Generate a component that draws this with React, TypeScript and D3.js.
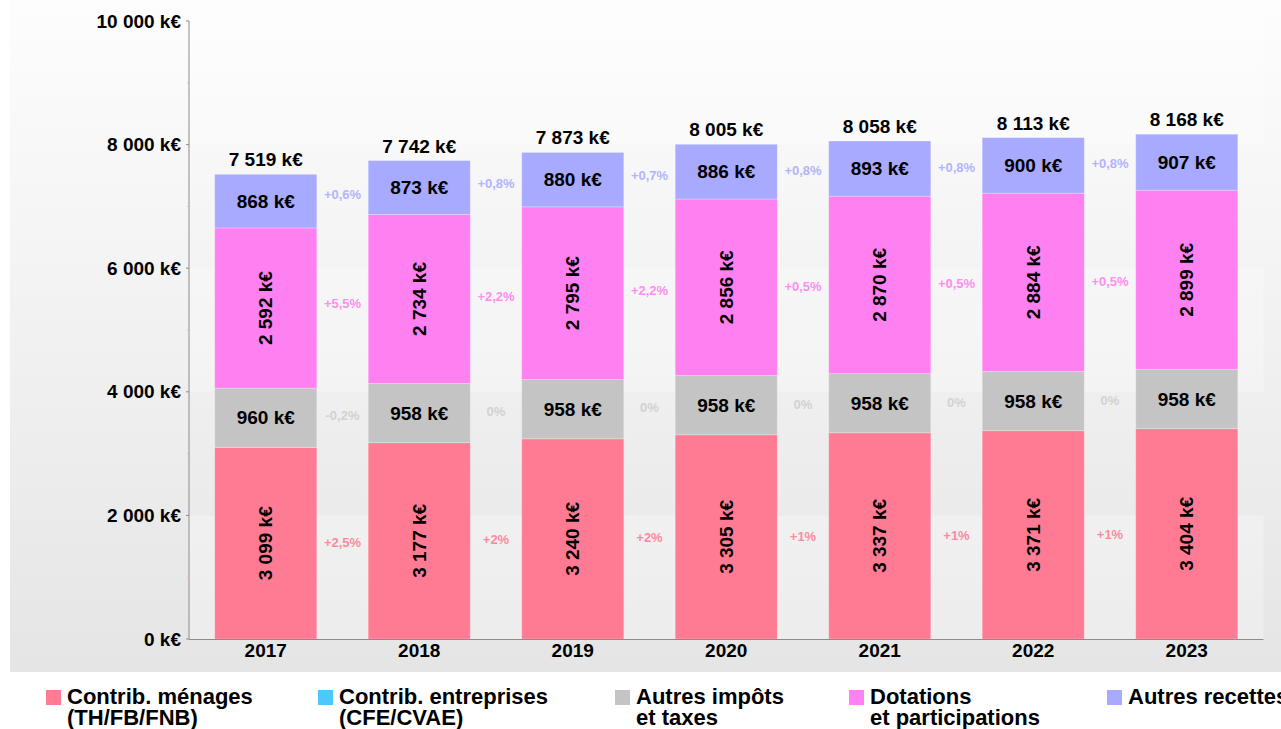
import React from "react";
import * as d3 from "d3";

const years = ["2017", "2018", "2019", "2020", "2021", "2022", "2023"];
const menages = [3099, 3177, 3240, 3305, 3337, 3371, 3404];
const entreprises = [0, 0, 0, 0, 0, 0, 0];
const autresImpots = [960, 958, 958, 958, 958, 958, 958];
const dotations = [2592, 2734, 2795, 2856, 2870, 2884, 2899];
const autresRecettes = [868, 873, 880, 886, 893, 900, 907];
const totals = [7519, 7742, 7873, 8005, 8058, 8113, 8168];

const pctMenages = ["+2,5%", "+2%", "+2%", "+1%", "+1%", "+1%"];
const pctImpots = ["-0,2%", "0%", "0%", "0%", "0%", "0%"];
const pctDotations = ["+5,5%", "+2,2%", "+2,2%", "+0,5%", "+0,5%", "+0,5%"];
const pctRecettes = ["+0,6%", "+0,8%", "+0,7%", "+0,8%", "+0,8%", "+0,8%"];

const yTicks = [0, 2000, 4000, 6000, 8000, 10000];
const yMinorTicks = [1000, 3000, 5000, 7000, 9000];

const series = [
  { key: "menages", name: ["Contrib. ménages", "(TH/FB/FNB)"], values: menages, pct: pctMenages, color: "#ff7b93", pctColor: "#ff8aa0", rotate: true },
  { key: "entreprises", name: ["Contrib. entreprises", "(CFE/CVAE)"], values: entreprises, pct: null, color: "#4cc8ff", pctColor: "#4cc8ff", rotate: false },
  { key: "impots", name: ["Autres impôts", "et taxes"], values: autresImpots, pct: pctImpots, color: "#c4c4c4", pctColor: "#d2d2d2", rotate: false },
  { key: "dotations", name: ["Dotations", "et participations"], values: dotations, pct: pctDotations, color: "#ff80f0", pctColor: "#ff8ef0", rotate: true },
  { key: "recettes", name: ["Autres recettes"], values: autresRecettes, pct: pctRecettes, color: "#a8aaff", pctColor: "#b2b4ff", rotate: false },
];

const legendX = [46, 318, 615, 849, 1107];

const fmt = (v: number) => {
  const s = String(v);
  return s.replace(/\B(?=(\d{3})+(?!\d))/g, " ") + " k€";
};

const FONT = "'Liberation Sans', Arial, Helvetica, sans-serif";

export default function App() {
  const W = 1281;
  const H = 729;
  const x0 = 189;
  const x1 = 1263.5;
  const y0 = 639;
  const y1 = 21;

  const x = d3.scaleBand<string>().domain(years).range([x0, x1]).paddingInner(0.335).paddingOuter(0.1675);
  const y = d3.scaleLinear().domain([0, 10000]).range([y0, y1]);

  const stack = d3
    .stack<number>()
    .keys(series.map((s, i) => String(i)))
    .value((d, k) => series[+k].values[d]);
  const stacked = stack(years.map((_, i) => i));

  const bw = x.bandwidth();

  return (
    <svg width={W} height={H} style={{ position: "absolute", left: 0, top: 0, fontFamily: FONT }}>
      <defs>
        <linearGradient id="panelGrad" x1="0" y1="0" x2="0" y2="1">
          <stop offset="0" stopColor="#fdfdfd" />
          <stop offset="1" stopColor="#e5e5e5" />
        </linearGradient>
      </defs>
      <rect x={0} y={0} width={W} height={H} fill="#ffffff" />
      <rect x={10} y={0} width={W - 10} height={672} fill="url(#panelGrad)" />
      {/* alternating plot bands */}
      {yTicks.slice(0, -1).map((t, i) =>
        i % 2 === 0 ? (
          <rect
            key={t}
            x={x0}
            y={y(t + 2000)}
            width={x1 - x0}
            height={y(t) - y(t + 2000)}
            fill="#ffffff"
            opacity={0.28}
          />
        ) : null
      )}

      {/* bars */}
      {stacked.map((layer, si) =>
        layer.map((d, i) => {
          const h = y(d[0]) - y(d[1]);
          if (h <= 0) return null;
          return (
            <rect
              key={`${si}-${i}`}
              x={x(years[i])}
              y={y(d[1])}
              width={bw}
              height={h}
              fill={series[si].color}
              stroke="#ffffff"
              strokeOpacity={0.25}
              strokeWidth={1}
            />
          );
        })
      )}

      {/* segment labels */}
      {stacked.map((layer, si) =>
        layer.map((d, i) => {
          const v = series[si].values[i];
          if (!v) return null;
          const cx = (x(years[i]) as number) + bw / 2;
          const cy = (y(d[0]) + y(d[1])) / 2;
          return series[si].rotate ? (
            <text
              key={`l-${si}-${i}`}
              transform={`translate(${cx},${cy}) rotate(-90)`}
              textAnchor="middle"
              dy="0.35em"
              fontSize={19}
              fontWeight="bold"
              fill="#000"
            >
              {fmt(v)}
            </text>
          ) : (
            <text key={`l-${si}-${i}`} x={cx} y={cy} textAnchor="middle" dy="0.35em" fontSize={19} fontWeight="bold" fill="#000">
              {fmt(v)}
            </text>
          );
        })
      )}

      {/* percentage labels */}
      {stacked.map((layer, si) => {
        const pct = series[si].pct;
        if (!pct) return null;
        return pct.map((p, i) => {
          const a = layer[i];
          const b = layer[i + 1];
          const cx = ((x(years[i]) as number) + bw + (x(years[i + 1]) as number)) / 2;
          const cy = ((y(a[0]) + y(a[1])) / 2 + (y(b[0]) + y(b[1])) / 2) / 2;
          return (
            <text key={`p-${si}-${i}`} x={cx} y={cy} textAnchor="middle" dy="0.35em" fontSize={13} fontWeight="bold" fill={series[si].pctColor}>
              {p}
            </text>
          );
        });
      })}

      {/* totals */}
      {totals.map((t, i) => (
        <text key={`t-${i}`} x={(x(years[i]) as number) + bw / 2} y={y(t) - 8} textAnchor="middle" fontSize={19} fontWeight="bold" fill="#000">
          {fmt(t)}
        </text>
      ))}

      {/* axes */}
      <line x1={x0} x2={x0} y1={y1} y2={y0} stroke="#8c8c8c" strokeWidth={1} />
      <line x1={x0} x2={x1} y1={y0 + 0.5} y2={y0 + 0.5} stroke="#8c8c8c" strokeWidth={1} />
      {yTicks.map((t) => (
        <g key={`yt-${t}`}>
          <line x1={x0 - 3} x2={x0} y1={y(t)} y2={y(t)} stroke="#8c8c8c" />
          <text x={181} y={y(t)} dy="0.35em" textAnchor="end" fontSize={19} fontWeight="bold" fill="#000">
            {fmt(t)}
          </text>
        </g>
      ))}
      {yMinorTicks.map((t) => (
        <line key={`ym-${t}`} x1={x0 - 2} x2={x0} y1={y(t)} y2={y(t)} stroke="#f4b0b8" />
      ))}
      {years.map((yr) => (
        <text key={`x-${yr}`} x={(x(yr) as number) + bw / 2} y={657} textAnchor="middle" fontSize={19} fontWeight="bold" fill="#000">
          {yr}
        </text>
      ))}

      {/* legend */}
      {series.map((s, i) => (
        <g key={`lg-${s.key}`}>
          <rect x={legendX[i]} y={690} width={15} height={15} fill={s.color} />
          {s.name.map((ln, j) => (
            <text key={j} x={legendX[i] + 21} y={704 + j * 21} fontSize={22} fontWeight="bold" fill="#000">
              {ln}
            </text>
          ))}
        </g>
      ))}
    </svg>
  );
}
